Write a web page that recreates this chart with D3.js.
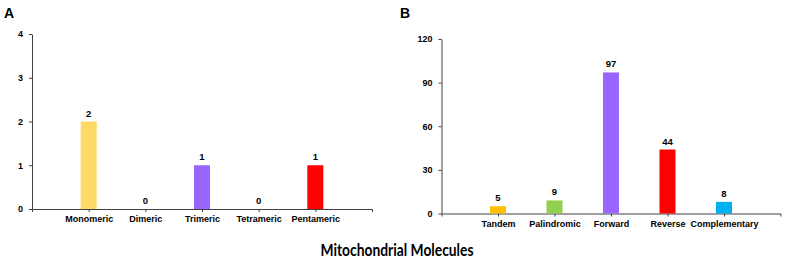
<!DOCTYPE html>
<html>
<head>
<meta charset="utf-8">
<script src="https://cdn.jsdelivr.net/npm/d3@7"></script>
<style>
  body { margin: 0; background: #fff; }
  .axis path, .axis line { stroke: #404040; stroke-width: 1; }
  .axis text { font-family: "Liberation Sans", Arial, sans-serif; font-size: 9px; font-weight: bold; fill: #000; }
  .val { font-family: "Liberation Sans", Arial, sans-serif; font-size: 9.5px; font-weight: bold; }
  .panel { font-family: "Liberation Sans", Arial, sans-serif; font-size: 14px; font-weight: bold; }
</style>
</head>
<body>
<script>
var catsA = ["Monomeric", "Dimeric", "Trimeric", "Tetrameric", "Pentameric"];
var valsA = [2, 0, 1, 0, 1];
var colorsA = ["#FFD966", "#FFD966", "#9966FF", "#9966FF", "#FF0000"];
var ticksA = [0, 1, 2, 3, 4];

var catsB = ["Tandem", "Palindromic", "Forward", "Reverse", "Complementary"];
var valsB = [5, 9, 97, 44, 8];
var colorsB = ["#FFC000", "#92D050", "#9966FF", "#FF0000", "#00B0F0"];
var ticksB = [0, 30, 60, 90, 120];

var svg = d3.select("body").append("svg")
    .attr("width", 790)
    .attr("height", 260);

function panel(cats, vals, colors, ticks, box, label) {
    var x = d3.scalePoint()
        .domain(cats)
        .range([box.left, box.right])
        .padding(1);
    var y = d3.scaleLinear()
        .domain([0, ticks[ticks.length - 1]])
        .range([box.bottom, box.top]);

    svg.append("g")
        .attr("class", "axis")
        .attr("transform", "translate(0," + box.bottom + ")")
        .call(d3.axisBottom(x).tickSize(3).tickSizeOuter(3).tickPadding(4));

    svg.append("g")
        .attr("class", "axis")
        .attr("transform", "translate(" + box.left + ",0)")
        .call(d3.axisLeft(y).tickValues(ticks).tickFormat(d3.format("d"))
            .tickSize(3).tickSizeOuter(0).tickPadding(6));

    var bw = 16;
    svg.selectAll(null)
        .data(vals)
        .enter()
        .append("rect")
        .attr("x", function(d, i) { return x(cats[i]) - bw / 2; })
        .attr("y", function(d) { return y(d); })
        .attr("width", bw)
        .attr("height", function(d) { return box.bottom - y(d); })
        .attr("fill", function(d, i) { return colors[i]; });

    svg.selectAll(null)
        .data(vals)
        .enter()
        .append("text")
        .attr("class", "val")
        .attr("text-anchor", "middle")
        .attr("x", function(d, i) { return x(cats[i]); })
        .attr("y", function(d) { return y(d) - 5; })
        .text(function(d) { return d; });

    svg.append("text")
        .attr("class", "panel")
        .attr("x", box.labelX)
        .attr("y", 18)
        .text(label);
}

panel(catsA, valsA, colorsA, ticksA, {left: 32, right: 372, top: 34, bottom: 209, labelX: 4}, "A");
panel(catsB, valsB, colorsB, ticksB, {left: 441.5, right: 780.5, top: 39, bottom: 213.5, labelX: 400}, "B");

svg.append("text")
    .attr("x", 397)
    .attr("y", 256)
    .attr("text-anchor", "middle")
    .attr("textLength", 153)
    .attr("lengthAdjust", "spacingAndGlyphs")
    .style("font-family", "Lato, sans-serif")
    .style("font-size", "17px")
    .style("font-weight", "bold")
    .text("Mitochondrial Molecules");
</script>
</body>
</html>
